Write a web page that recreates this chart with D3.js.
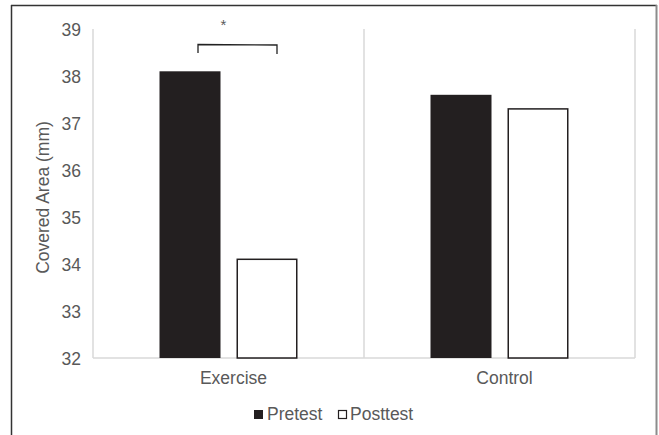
<!DOCTYPE html>
<html>
<head>
<meta charset="utf-8">
<script src="https://cdn.jsdelivr.net/npm/d3@7"></script>
<style>
  html, body { margin: 0; padding: 0; background: #fff; }
  svg { display: block; font-family: "Liberation Sans", Arial, sans-serif; }
</style>
</head>
<body>
<svg id="chart" width="659" height="435"></svg>
<script>
const categories = ["Exercise", "Control"];
const seriesNames = ["Pretest", "Posttest"];
const pretest = [38.1, 37.6];
const posttest = [34.1, 37.3];
const yTicks = [32, 33, 34, 35, 36, 37, 38, 39];
const yTitle = "Covered Area (mm)";
const sigLabel = "*";

const svg = d3.select("#chart");
const textColor = "#595959";
const barColor = "#231f20";
const gridColor = "#d9d9d9";
const fontSize = "17.5px";

const plot = { left: 93, right: 635, top: 29, bottom: 358 };

// Outer frame
svg.append("line").attr("x1", 11.5).attr("x2", 11.5).attr("y1", 5).attr("y2", 435)
  .attr("stroke", "#333").attr("stroke-width", 1.5);
svg.append("line").attr("x1", 11).attr("x2", 657).attr("y1", 5.5).attr("y2", 5.5)
  .attr("stroke", "#333").attr("stroke-width", 1.5);
svg.append("line").attr("x1", 656.5).attr("x2", 656.5).attr("y1", 5).attr("y2", 435)
  .attr("stroke", "#8c8c8c").attr("stroke-width", 2);

const x0 = d3.scaleBand().domain(categories).range([plot.left, plot.right]).padding(0);
const cw = x0.bandwidth();
const x1 = d3.scaleBand().domain(seriesNames)
  .range([cw / 2 - 69, cw / 2 + 69]).paddingInner(16 / 77).paddingOuter(0);
const y = d3.scaleLinear().domain([32, 39]).range([plot.bottom, plot.top]);

// Vertical gridlines at category boundaries
const bounds = categories.map(c => x0(c)).concat([plot.right]);
svg.append("g").selectAll("line").data(bounds).join("line")
  .attr("x1", d => d).attr("x2", d => d)
  .attr("y1", y(39)).attr("y2", y(32))
  .attr("stroke", gridColor).attr("stroke-width", 1.5);

// Baseline
svg.append("line").attr("x1", plot.left).attr("x2", plot.right)
  .attr("y1", y(32)).attr("y2", y(32))
  .attr("stroke", gridColor).attr("stroke-width", 1.5);

// Y axis
const yAxis = d3.axisLeft(y).tickValues(yTicks).tickSize(0).tickPadding(0).tickFormat(d3.format("d"));
const yg = svg.append("g").attr("transform", `translate(81,0)`).call(yAxis);
yg.select(".domain").remove();
yg.selectAll("text").attr("fill", textColor).style("font-size", fontSize)
  .style("font-family", "'Liberation Sans', Arial, sans-serif")
  .attr("dy", "0.36em");

// Y title
svg.append("text")
  .attr("transform", `translate(49,${(plot.top + plot.bottom) / 2 + 4}) rotate(-90)`)
  .attr("text-anchor", "middle").attr("fill", textColor).style("font-size", fontSize)
  .text(yTitle);

// Bars
const data = categories.map((c, i) => ({ cat: c, values: [
  { s: seriesNames[0], v: pretest[i] }, { s: seriesNames[1], v: posttest[i] } ] }));

const groups = svg.append("g").selectAll("g").data(data).join("g")
  .attr("transform", d => `translate(${x0(d.cat)},0)`);

groups.selectAll("rect").data(d => d.values).join("rect")
  .attr("x", d => x1(d.s) + (d.s === "Posttest" ? 0.75 : 0))
  .attr("width", d => x1.bandwidth() - (d.s === "Posttest" ? 1.5 : 0))
  .attr("y", d => y(d.v))
  .attr("height", d => y(32) - y(d.v))
  .attr("fill", d => d.s === "Pretest" ? barColor : "#fff")
  .attr("stroke", d => d.s === "Pretest" ? "none" : barColor)
  .attr("stroke-width", 1.5);

// X labels
svg.append("g").selectAll("text").data(categories).join("text")
  .attr("x", d => x0(d) + cw / 2 + 5).attr("y", 384)
  .attr("text-anchor", "middle").attr("fill", textColor).style("font-size", fontSize)
  .text(d => d);

// Significance bracket (Exercise)
const exX = x0("Exercise");
const bl = exX + x1("Pretest") + x1.bandwidth() / 2 + 8;
const br = exX + x1("Posttest") + x1.bandwidth() / 2 + 10;
svg.append("path")
  .attr("d", `M${bl},53 L${bl},44.5 L${br},45 L${br},54`)
  .attr("fill", "none").attr("stroke", "#222").attr("stroke-width", 1.3);
svg.append("text").attr("x", exX + x1("Pretest") + x1.bandwidth() + 3).attr("y", 30)
  .attr("text-anchor", "middle").attr("fill", textColor).style("font-size", "15px")
  .text(sigLabel);

// Legend
const legend = svg.append("g");
const legendX = [254, 338];
seriesNames.forEach((s, i) => {
  legend.append("rect")
    .attr("x", legendX[i] + (i === 1 ? 0.5 : 0)).attr("y", 410 + (i === 1 ? 0.5 : 0))
    .attr("width", i === 1 ? 8 : 9).attr("height", i === 1 ? 8 : 9)
    .attr("fill", i === 0 ? barColor : "#fff")
    .attr("stroke", i === 0 ? "none" : barColor).attr("stroke-width", 1.2);
  legend.append("text").attr("x", legendX[i] + (i === 0 ? 13 : 12)).attr("y", 420)
    .attr("fill", textColor).style("font-size", fontSize).text(s);
});
</script>
</body>
</html>
